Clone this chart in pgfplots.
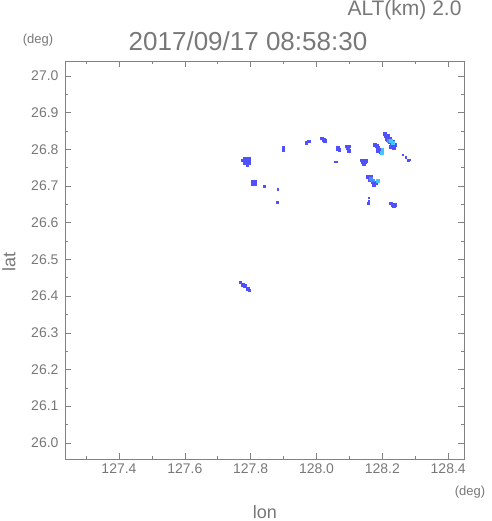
\documentclass[border=0pt]{standalone}
\usepackage{pgfplots}
\pgfplotsset{compat=1.18}
\usepackage{fontspec}
\setmainfont{Liberation Sans}
\definecolor{axgray}{RGB}{130,130,130}
\definecolor{txtgray}{RGB}{120,120,120}
\definecolor{echoblue}{RGB}{80,80,255}
\definecolor{echomid}{RGB}{70,140,255}
\definecolor{echocyan}{RGB}{60,200,255}
\begin{document}
\begin{tikzpicture}[x=1pt,y=1pt]
\path[use as bounding box] (-65,-62) rectangle (426,459);
\begin{axis}[at={(0,0)},anchor=south west,
  scale only axis, width=399pt, height=398pt,
  xmin=127.236, xmax=128.448, ymin=25.956, ymax=27.041,
  xtick={127.4,127.6,127.8,128.0,128.2,128.4},
  xticklabels={127.4,127.6,127.8,128.0,128.2,128.4},
  minor xtick={127.3,127.5,127.7,127.9,128.1,128.3},
  ytick={26.0,26.1,26.2,26.3,26.4,26.5,26.6,26.7,26.8,26.9,27.0},
  yticklabels={26.0,26.1,26.2,26.3,26.4,26.5,26.6,26.7,26.8,26.9,27.0},
  minor ytick={26.05,26.15,26.25,26.35,26.45,26.55,26.65,26.75,26.85,26.95},
  tick align=inside,
  major tick length=6pt, minor tick length=3pt,
  tick style={axgray, line width=0.6pt},
  axis line style={axgray, line width=0.7pt},
  ticklabel style={font=\fontsize{14}{14}\selectfont, text=txtgray},
  xticklabel style={yshift=-1pt},
  yticklabel style={xshift=-3pt},
  clip=true,
]
% main blue echoes
\addplot[only marks, mark=square*, mark size=1.3pt, mark options={fill=echoblue, draw=echoblue, line width=0pt}] coordinates {
(127.782,26.775)(127.790,26.775)(127.797,26.775)
(127.782,26.768)(127.790,26.768)(127.797,26.768)
(127.782,26.762)(127.790,26.762)(127.797,26.762)
(127.776,26.770)(127.790,26.756)
(127.900,26.803)(127.900,26.798)
(127.807,26.712)(127.813,26.712)(127.807,26.706)(127.813,26.706)
(127.970,26.818)(127.977,26.822)
(128.016,26.830)(128.022,26.826)(128.026,26.823)
(128.066,26.803)(128.070,26.798)(128.064,26.800)
(128.092,26.808)(128.098,26.808)(128.096,26.802)(128.098,26.796)
(128.138,26.770)(128.145,26.770)(128.152,26.768)(128.140,26.765)(128.147,26.764)(128.145,26.761)
(128.208,26.842)(128.217,26.837)(128.211,26.837)(128.214,26.828)(128.223,26.828)(128.217,26.826)
(128.223,26.820)(128.232,26.820)(128.229,26.812)(128.238,26.812)(128.235,26.804)(128.226,26.807)(128.232,26.807)
(128.177,26.812)(128.183,26.809)(128.186,26.804)(128.192,26.798)(128.195,26.793)(128.186,26.796)
(128.156,26.725)(128.165,26.725)(128.162,26.717)(128.171,26.711)(128.180,26.708)(128.174,26.703)
(128.227,26.652)(128.232,26.648)(128.238,26.648)(128.235,26.644)
(127.769,26.437)(127.777,26.430)(127.782,26.428)(127.791,26.420)(127.797,26.415)
};
% small specks
\addplot[only marks, mark=square*, mark size=0.7pt, mark options={fill=echoblue, draw=echoblue, line width=0pt}] coordinates {
(127.842,26.699)(127.883,26.691)(127.882,26.655)
(128.060,26.765)(128.057,26.765)(128.063,26.765)
(128.262,26.785)(128.271,26.778)(128.279,26.770)(128.284,26.771)
(128.159,26.668)(128.159,26.659)(128.158,26.653)
};
% mid shades
\addplot[only marks, mark=square*, mark size=1.3pt, mark options={fill=echomid, draw=echomid, line width=0pt}] coordinates {
(128.220,26.823)(128.165,26.719)(128.171,26.715)
};
% cyan echoes
\addplot[only marks, mark=square*, mark size=1.3pt, mark options={fill=echocyan, draw=echocyan, line width=0pt}] coordinates {
(128.226,26.823)(128.232,26.817)(128.201,26.798)(128.198,26.790)(128.186,26.714)
};
\end{axis}
\node[anchor=east, text=txtgray, font=\fontsize{21}{21}\selectfont] at (400,449) {ALT(km) 2.0};
\node[text=txtgray, font=\fontsize{26}{26}\selectfont] at (183,418) {2017/09/17 08:58:30};
\node[text=txtgray, font=\fontsize{13}{13}\selectfont] at (-27,419) {(deg)};
\node[text=txtgray, font=\fontsize{13}{13}\selectfont] at (405,-33) {(deg)};
\node[text=txtgray, font=\fontsize{18}{18}\selectfont, inner sep=0pt] at (200,-53) {lon};
\node[text=txtgray, font=\fontsize{18}{18}\selectfont, rotate=90, inner sep=0pt] at (-56,197) {lat};
\end{tikzpicture}
\end{document}
